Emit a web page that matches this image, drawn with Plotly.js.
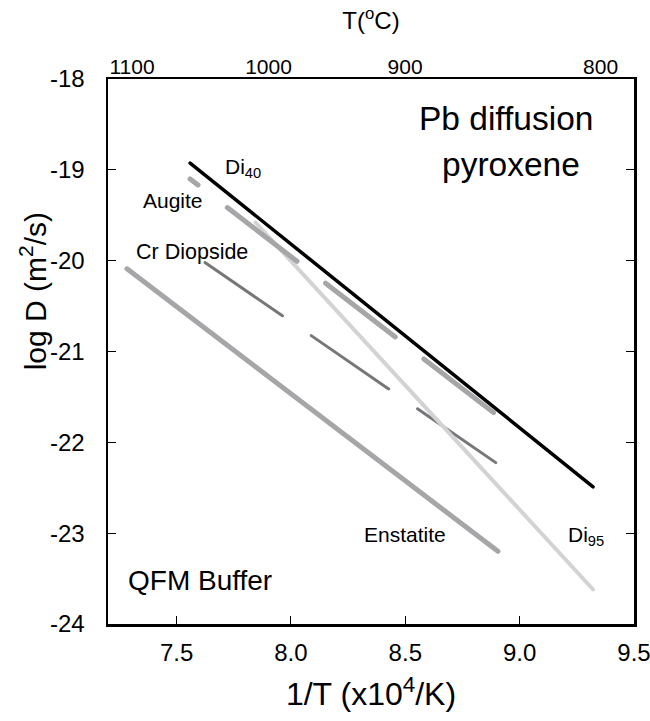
<!DOCTYPE html>
<html>
<head>
<meta charset="utf-8">
<script src="https://cdn.plot.ly/plotly-3.0.1.min.js"></script>
<style>
html,body{margin:0;padding:0;background:#fff;}
#chart .scatterlayer .js-line{stroke-linecap:round;}
</style>
</head>
<body>
<div id="chart" style="width:650px;height:721px;"></div>
<script>
// 1/T (x10^4/K) and log D (m^2/s) endpoints for each pyroxene
const enstatiteX = [7.283, 8.905];
const enstatiteY = [-20.09, -23.20];
const crDiopsideX = [7.624, 8.905];
const crDiopsideY = [-20.02, -22.24];
const di95X = [7.845, 9.321];
const di95Y = [-19.58, -23.62];
const augiteX = [7.559, 8.905];
const augiteY = [-19.10, -21.71];
const di40X = [7.559, 9.321];
const di40Y = [-18.925, -22.49];

// axis ticks
const bottomTicks = [7.5, 8.0, 8.5, 9.0, 9.5];
const bottomTickText = ["7.5", "8.0", "8.5", "9.0", "9.5"];
const topTickPos = [7.305, 7.902, 8.499, 9.354];
const topTickText = ["1100", "1000", "900", "800"];
const yTicks = [-24, -23, -22, -21, -20, -19, -18];
const yTickText = ["-24", "-23", "-22", "-21", "-20", "-19", "-18"];

const FONT = "Liberation Sans, Arial, sans-serif";

const traces = [
  {x: enstatiteX, y: enstatiteY, mode: "lines", line: {color: "#a6a6a9", width: 5}},
  {x: crDiopsideX, y: crDiopsideY, mode: "lines", line: {color: "#77777a", width: 3, dash: "94px,35px,94px,35px,95px"}},
  {x: di95X, y: di95Y, mode: "lines", line: {color: "#d3d3d5", width: 4}},
  {x: augiteX, y: augiteY, mode: "lines", line: {color: "#a6a6a9", width: 5, dash: "10px,37px,88px,36px,88px,36px,88px"}},
  {x: di40X, y: di40Y, mode: "lines", line: {color: "#000000", width: 3.5}},
  {x: [null], y: [null], xaxis: "x2", yaxis: "y", mode: "lines", showlegend: false, hoverinfo: "skip"}
];

const ann = (text, x, y, size, xanchor) => ({
  text: text, x: x, y: y, xref: "x", yref: "y", showarrow: false,
  xanchor: xanchor || "center", yanchor: "middle",
  font: {family: FONT, size: size, color: "#000"}
});

const layout = {
  width: 650, height: 721,
  margin: {l: 108, r: 16, t: 79, b: 97},
  paper_bgcolor: "#fff", plot_bgcolor: "#fff",
  showlegend: false,
  font: {family: FONT, color: "#000"},
  xaxis: {
    range: [7.2, 9.5], tickvals: bottomTicks, ticktext: bottomTickText,
    ticks: "inside", ticklen: 8, tickwidth: 1, tickcolor: "#000",
    showline: true, linecolor: "#000", linewidth: 2.5, mirror: true,
    showgrid: false, zeroline: false, ticklabeloverflow: "allow",
    tickfont: {size: 24, family: FONT}, ticklabelstandoff: 6,
    title: {text: "1/T (x10<sup>4</sup>/K)", font: {size: 32, family: FONT}, standoff: 18},
    automargin: false
  },
  xaxis2: {
    overlaying: "x", side: "top", range: [7.2, 9.5],
    tickvals: topTickPos, ticktext: topTickText, ticks: "",
    showline: false, showgrid: false, zeroline: false, ticklabeloverflow: "allow",
    tickfont: {size: 21, family: FONT}, ticklabelstandoff: 0,
    title: {text: "T(<sup>o</sup>C)", font: {size: 24, family: FONT}, standoff: 18},
    automargin: false
  },
  yaxis: {
    range: [-24, -18], tickvals: yTicks, ticktext: yTickText,
    ticks: "inside", ticklen: 8, tickwidth: 1, tickcolor: "#000",
    showline: true, linecolor: "#000", linewidth: 2.5, mirror: "ticks",
    showgrid: false, zeroline: false,
    tickfont: {size: 24, family: FONT}, ticklabelstandoff: 16,
    automargin: false
  },
  annotations: [
    {text: "log D (m<sup>2</sup>/s)", xref: "paper", yref: "paper", x: -0.143, y: 0.61,
     textangle: -90, showarrow: false, xanchor: "center", yanchor: "middle",
     font: {family: FONT, size: 30, color: "#000"}},
    ann("Pb diffusion", 8.940, -18.44, 33.5),
    ann("pyroxene", 8.962, -18.936, 33.5),
    ann("Di<sub>40</sub>", 7.703, -18.98, 21, "left"),
    ann("Augite", 7.484, -19.333, 21),
    ann("Cr Diopside", 7.567, -19.905, 21.5),
    ann("Enstatite", 8.499, -23.02, 21),
    ann("Di<sub>95</sub>", 9.203, -23.03, 21, "left"),
    ann("QFM Buffer", 7.602, -23.518, 28)
  ]
};

Plotly.newPlot("chart", traces, layout, {staticPlot: true, displayModeBar: false});
</script>
</body>
</html>
